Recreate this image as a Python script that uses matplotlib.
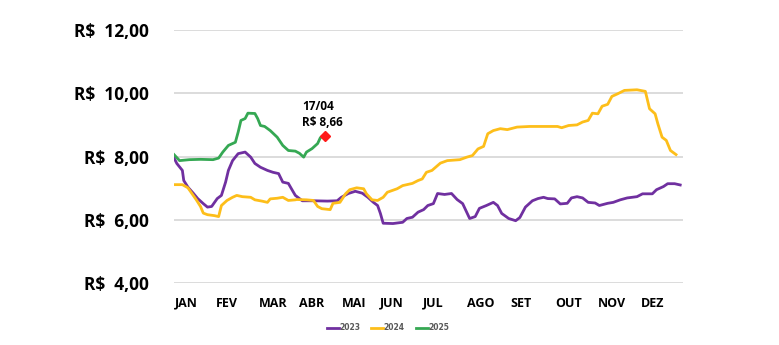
import matplotlib

matplotlib.use("Agg")
import matplotlib.pyplot as plt

# day of year (0 = 1 Jan) and price in R$
days_2023 = [0, 2, 6, 7, 10, 14, 17, 21, 24, 27, 31, 34, 37, 39, 42, 46, 51, 55, 58, 62,
             67, 71, 75, 78, 82, 85, 87, 92, 100, 110, 117, 120, 125, 130, 135, 139, 143,
             146, 148, 150, 157, 164, 167, 171, 175, 179, 182, 186, 189, 194, 199, 203,
             207, 212, 216, 219, 224, 229, 232, 235, 240, 245, 248, 252, 257, 261, 265,
             268, 273, 277, 282, 285, 289, 293, 297, 302, 305, 311, 315, 320, 325, 332,
             336, 343, 346, 351, 354, 359, 363]
price_2023 = [7.96, 7.78, 7.56, 7.24, 7.03, 6.83, 6.67, 6.51, 6.40, 6.42, 6.67, 6.77, 7.19,
              7.56, 7.87, 8.09, 8.14, 7.98, 7.78, 7.66, 7.56, 7.50, 7.46, 7.19, 7.15, 6.92,
              6.77, 6.60, 6.60, 6.59, 6.60, 6.71, 6.83, 6.90, 6.84, 6.71, 6.55, 6.45, 6.20,
              5.89, 5.88, 5.92, 6.04, 6.08, 6.24, 6.32, 6.45, 6.51, 6.83, 6.80, 6.83, 6.64,
              6.51, 6.04, 6.10, 6.36, 6.45, 6.55, 6.45, 6.20, 6.04, 5.97, 6.07, 6.40, 6.60,
              6.67, 6.71, 6.67, 6.66, 6.50, 6.52, 6.69, 6.73, 6.69, 6.55, 6.53, 6.45, 6.52,
              6.55, 6.63, 6.69, 6.73, 6.82, 6.82, 6.95, 7.05, 7.14, 7.14, 7.10]

days_2024 = [0, 6, 10, 13, 16, 19, 21, 24, 29, 32, 34, 38, 42, 45, 49, 55, 58, 63, 67, 69,
             74, 78, 82, 87, 88, 95, 100, 103, 106, 112, 114, 119, 123, 126, 131, 136, 138,
             142, 146, 150, 153, 160, 164, 171, 175, 178, 181, 185, 191, 196, 205, 210,
             214, 218, 222, 225, 229, 234, 239, 246, 255, 275, 278, 283, 289, 293, 297,
             300, 304, 307, 311, 314, 318, 323, 332, 338, 339, 341, 345, 347, 350, 353,
             356, 360]
price_2024 = [7.11, 7.11, 7.01, 6.82, 6.63, 6.42, 6.21, 6.16, 6.13, 6.10, 6.45, 6.61, 6.71,
              6.77, 6.73, 6.71, 6.63, 6.59, 6.55, 6.66, 6.68, 6.71, 6.61, 6.63, 6.64, 6.63,
              6.61, 6.42, 6.35, 6.32, 6.52, 6.55, 6.82, 6.95, 7.01, 6.98, 6.82, 6.63, 6.61,
              6.71, 6.87, 6.98, 7.08, 7.15, 7.24, 7.29, 7.50, 7.56, 7.79, 7.87, 7.90, 7.98,
              8.03, 8.24, 8.32, 8.72, 8.82, 8.88, 8.85, 8.93, 8.95, 8.95, 8.91, 8.98, 9.00,
              9.09, 9.14, 9.37, 9.35, 9.59, 9.65, 9.90, 9.98, 10.09, 10.11, 10.06, 9.88,
              9.51, 9.35, 9.03, 8.61, 8.51, 8.19, 8.06]

days_2025 = [0, 4, 11, 19, 28, 32, 35, 39, 44, 46, 48, 51, 53, 58, 60, 62, 65, 69, 74, 78,
             82, 87, 90, 93, 95, 99, 103, 105, 108]
price_2025 = [8.06, 7.87, 7.90, 7.91, 7.90, 7.95, 8.14, 8.35, 8.45, 8.77, 9.14, 9.20, 9.37,
              9.36, 9.20, 8.98, 8.95, 8.82, 8.61, 8.35, 8.19, 8.17, 8.10, 7.98, 8.14, 8.25,
              8.41, 8.60, 8.66]

month_labels = ["JAN", "FEV", "MAR", "ABR", "MAI", "JUN", "JUL", "AGO", "SET", "OUT", "NOV", "DEZ"]
month_pos = [9, 38, 71, 99, 129, 156, 186, 220, 249, 283, 314, 343]
y_ticks = [4, 6, 8, 10, 12]

last_label = "17/04\nR$ 8,66"

fig = plt.figure(figsize=(7.79, 3.45), dpi=100)
ax = fig.add_axes([174 / 779, 1 - 283 / 345, 509 / 779, 253 / 345])

ax.plot(days_2023, price_2023, color="#7030A0", lw=2.0, label="2023", solid_joinstyle="round")
ax.plot(days_2024, price_2024, color="#FDBE1A", lw=2.0, label="2024", solid_joinstyle="round")
ax.plot(days_2025, price_2025, color="#35A853", lw=2.0, label="2025", solid_joinstyle="round")
ax.plot(days_2025[-1], price_2025[-1], marker="D", color="#FF1A1A", ms=5.5, zorder=5)
ax.text(days_2025[-1] - 16, price_2025[-1] + 0.2, last_label, fontsize=8.5,
        fontweight="bold", family="Open Sans", ha="left", va="bottom", linespacing=1.3)

ax.set_xlim(0, 365)
ax.set_ylim(4, 12)
ax.set_yticks(y_ticks)
ax.set_yticklabels([f"R$  {v:.2f}".replace(".", ",") for v in y_ticks],
                   fontsize=12.5, fontweight="bold", family="Open Sans")
ax.set_xticks(month_pos)
ax.set_xticklabels(month_labels, fontsize=9, fontweight="bold", family="Open Sans")
ax.tick_params(axis="y", length=0, pad=18)
ax.tick_params(axis="x", length=0, pad=10)
ax.grid(axis="y", color="#d9d9d9", lw=1.3)
ax.set_axisbelow(True)
for s in ax.spines.values():
    s.set_visible(False)

leg = ax.legend(loc="center", bbox_to_anchor=(388 / 779, 1 - 328 / 345),
                bbox_transform=fig.transFigure, ncol=3, frameon=False,
                fontsize=5.5, handlelength=1.6, handletextpad=0.05, columnspacing=1.4)
for t in leg.get_texts():
    t.set_color("#595959")
    t.set_fontweight("bold")

fig.savefig("out.png", dpi=100)
